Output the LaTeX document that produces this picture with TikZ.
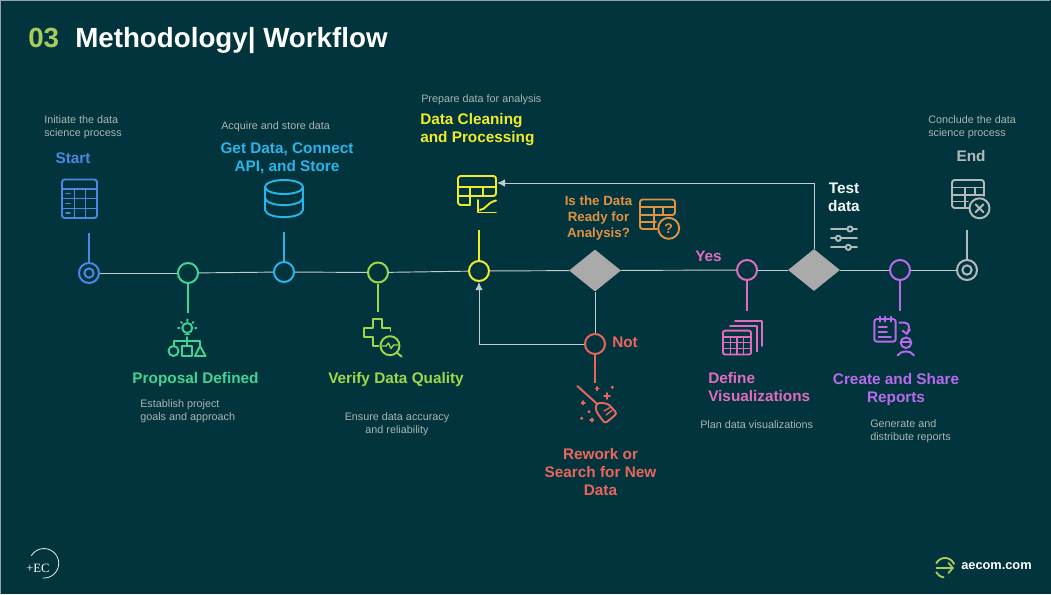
\documentclass[tikz,border=0pt]{standalone}
\usepackage{fontspec}
\setmainfont{Liberation Sans}
\newfontfamily\logofont{Liberation Serif}
\usetikzlibrary{arrows.meta, positioning, shapes.geometric}
\definecolor{slidebg}{RGB}{2,52,62}
\definecolor{slideedge}{RGB}{150,165,170}
\definecolor{notegray}{RGB}{170,182,175}
\definecolor{linegray}{RGB}{195,205,205}
\definecolor{diamondgray}{RGB}{170,170,170}
\definecolor{titlelime}{RGB}{168,204,92}
\definecolor{startblue}{RGB}{74,136,226}
\definecolor{propgreen}{RGB}{66,212,146}
\definecolor{getcyan}{RGB}{42,180,232}
\definecolor{verifylime}{RGB}{158,216,74}
\definecolor{cleanyellow}{RGB}{240,235,44}
\definecolor{askorange}{RGB}{222,146,66}
\definecolor{yespink}{RGB}{224,108,190}
\definecolor{notred}{RGB}{232,102,92}
\definecolor{repviolet}{RGB}{182,108,234}
\definecolor{endgray}{RGB}{178,186,186}
\tikzset{
  stopdot/.style={circle, draw=#1, line width=1.5pt, fill=none, minimum size=15pt, inner sep=0pt},
  stem/.style={draw=#1, line width=1.5pt},
  iconline/.style={draw=#1, line width=1.45pt, line join=round, line cap=round},
  decision/.style={diamond, fill=diamondgray, minimum width=39pt, minimum height=31.5pt, inner sep=0pt},
  mainline/.style={draw=linegray, line width=0.7pt},
  backline/.style={draw=linegray, line width=0.65pt, -{Latex[length=6pt,width=5.5pt]}},
  steptitle/.style={font=\fontsize{11.5}{13.5}\selectfont\bfseries, text=#1, inner sep=0pt, align=center},
  stepnote/.style={font=\fontsize{8.1}{9.75}\selectfont, text=notegray, inner sep=0pt, align=left},
}
\begin{document}
\begin{tikzpicture}[x=0.75pt, y=-0.75pt]
  \useasboundingbox (0,0) rectangle (1051,594);
  \fill[slidebg] (0,0) rectangle (1051,594);
  \draw[slideedge, line width=0.6pt] (0.3,0.3) -- (1050,0.3);
  \draw[slideedge, line width=0.6pt] (0.3,0.3) -- (0.3,594);

  \node[anchor=west, inner sep=0pt, font=\fontsize{20.8}{24}\selectfont\bfseries, text=titlelime] (secnum) at (28,38) {03};
  \node[anchor=west, inner sep=0pt, font=\fontsize{20.8}{24}\selectfont\bfseries, text=white] (slidetitle) at (75,41) {Methodology| Workflow};

  % stops on the line
  \node[stopdot=startblue] (start) at (89,273) {};
  \node[circle, draw=startblue, line width=1.5pt, minimum size=7pt, inner sep=0pt] (startin) at (89,273) {};
  \node[stopdot=propgreen] (prop) at (188,273) {};
  \node[stopdot=getcyan] (getdata) at (284,272) {};
  \node[stopdot=verifylime] (verify) at (378,272.5) {};
  \node[stopdot=cleanyellow] (clean) at (479,271) {};
  \node[decision] (ready) at (595,270.5) {};
  \node[stopdot=yespink] (yes) at (747,270) {};
  \node[decision] (test) at (814,270) {};
  \node[stopdot=repviolet] (report) at (900,270) {};
  \node[stopdot=endgray] (finish) at (967,270) {};
  \node[circle, draw=endgray, line width=1.5pt, minimum size=7pt, inner sep=0pt] (finishin) at (967,270) {};
  \node[stopdot=notred] (rework) at (595,344) {};

  \draw[mainline] (start) -- (prop);
  \draw[mainline] (prop) -- (getdata);
  \draw[mainline] (getdata) -- (verify);
  \draw[mainline] (verify) -- (clean);
  \draw[mainline] (clean) -- (ready);
  \draw[mainline] (ready) -- (yes);
  \draw[mainline] (yes) -- (test);
  \draw[mainline] (test) -- (report);
  \draw[mainline] (report) -- (finish);
  \draw[mainline] (ready) -- (rework);
  \draw[backline] (rework) -| (clean);
  \coordinate (cleanicon) at (497,183);
  \draw[backline] (test) |- (cleanicon);

  \coordinate (starttop) at (89,233);
  \coordinate (proplow) at (188,313);
  \coordinate (gettop) at (284,232);
  \coordinate (verifylow) at (378,312);
  \coordinate (cleantop) at (479,230);
  \coordinate (reworklow) at (595,383);
  \coordinate (yeslow) at (747,311);
  \coordinate (reportlow) at (900,311);
  \coordinate (finishtop) at (967,230);
  \draw[stem=startblue] (start) -- (starttop);
  \draw[stem=propgreen] (prop) -- (proplow);
  \draw[stem=getcyan] (getdata) -- (gettop);
  \draw[stem=verifylime] (verify) -- (verifylow);
  \draw[stem=cleanyellow] (clean) -- (cleantop);
  \draw[stem=notred] (rework) -- (reworklow);
  \draw[stem=yespink] (yes) -- (yeslow);
  \draw[stem=repviolet] (report) -- (reportlow);
  \draw[stem=endgray] (finish) -- (finishtop);

  % start icon
  \draw[iconline=startblue, rounded corners=2pt] (62,179.5) rectangle (97,218);
  \draw[iconline=startblue] (62,189) -- (97,189) (62,198.5) -- (97,198.5) (62,208.5) -- (97,208.5) (74.5,189) -- (74.5,218) (85.5,189) -- (85.5,218);
  \draw[iconline=startblue] (66,193.5) -- (70,193.5) (66,203.5) -- (70,203.5) (66,213) -- (70,213);

  % cylinder icon
  \draw[iconline=getcyan] (284,187) ellipse [x radius=19, y radius=7];
  \draw[iconline=getcyan] (265,187) -- (265,210) .. controls (267,219.5) and (301,219.5) .. (303,210) -- (303,187);
  \draw[iconline=getcyan] (265,198) .. controls (267,207.5) and (301,207.5) .. (303,198);

  % cleaning icon
  \draw[iconline=cleanyellow, rounded corners=2pt] (470,205) -- (458,205) -- (458,176) -- (496,176) -- (496,196) -- (458,196);
  \draw[iconline=cleanyellow] (458,187) -- (496,187) (470,187) -- (470,205) (483,187) -- (483,196);
  \draw[iconline=cleanyellow] (478,200) -- (478,212.5) -- (496,212.5);
  \draw[iconline=cleanyellow] (480,210) .. controls (487,209) and (486,203) .. (496,200.5);

  % question icon
  \draw[iconline=askorange, rounded corners=2pt] (657,229) -- (640,229) -- (640,199.5) -- (675,199.5) -- (675,215) -- (640,215);
  \draw[iconline=askorange] (640,207) -- (675,207) (640,222) -- (656,222) (654,207) -- (654,229) (663,207) -- (663,215);
  \draw[iconline=askorange, fill=slidebg] (668.7,228.3) circle [radius=10.5];
  \node[font=\fontsize{10.5}{12}\selectfont\bfseries, text=askorange, inner sep=0pt] (askmark) at (668.7,228.3) {?};

  % end icon
  \draw[iconline=endgray, rounded corners=2pt] (970,208) -- (952,208) -- (952,180) -- (984,180) -- (984,196);
  \draw[iconline=endgray] (952,187.5) -- (984,187.5) (952,195) -- (984,195) (952,201.5) -- (968,201.5) (965,187.5) -- (965,208) (975,187.5) -- (975,195);
  \draw[iconline=endgray, fill=slidebg] (979.5,208.3) circle [radius=10];
  \draw[iconline=endgray] (975.5,204.3) -- (983.5,212.3) (983.5,204.3) -- (975.5,212.3);

  % sliders icon
  \draw[iconline=endgray] (831,229) -- (857,229) (831,238.3) -- (857,238.3) (831,247.3) -- (857,247.3);
  \draw[iconline=endgray, fill=slidebg] (850,229) circle [radius=2.6] (838.3,238.3) circle [radius=2.6] (848.3,247.3) circle [radius=2.6];

  % bulb icon
  \draw[iconline=propgreen] (187.3,328) circle [radius=5];
  \draw[iconline=propgreen] (185,334.5) -- (189.5,334.5) (187.3,337) -- (187.3,346);
  \draw[iconline=propgreen] (187.3,319.5) -- (187.3,321) (178,328) -- (179.5,328) (195,328) -- (196.5,328) (181,322) -- (182,323) (193.5,322) -- (192.5,323);
  \draw[iconline=propgreen] (174,346) -- (174,341) -- (200,341) -- (200,346);
  \draw[iconline=propgreen] (173.5,351) circle [radius=5];
  \draw[iconline=propgreen] (182,346) rectangle (192,356);
  \draw[iconline=propgreen] (195,356) -- (205.5,356) -- (200,346) -- cycle;

  % plus and lens icon
  \draw[iconline=verifylime] (390.5,331) -- (390.5,328.3) -- (381.7,328.3) -- (381.7,319.3) -- (372.7,319.3) -- (372.7,328.3) -- (364.3,328.3) -- (364.3,337.3) -- (372.7,337.3) -- (372.7,346) -- (378.5,346);
  \draw[iconline=verifylime] (390,345.7) circle [radius=9.5];
  \draw[iconline=verifylime] (396.8,352.5) -- (401.7,356.7);
  \draw[iconline=verifylime, line width=1pt] (382,346) -- (386,346) -- (388.5,343) -- (391,348.5) -- (393.5,345) -- (398,345);

  % broom icon
  \draw[iconline=notred] (577.3,386) -- (596.7,403.5);
  \draw[iconline=notred, rounded corners=2pt] (595.5,405) -- (599.5,402.5) -- (608.5,404) -- (617,413.5) -- (605,423.5) -- (596.5,412) -- cycle;
  \draw[iconline=notred, line width=1pt] (604,411) -- (610,407.5) (606,415) -- (612,410.5);
  \draw[iconline=notred] (604,396) -- (610,396) (607,393) -- (607,399);
  \draw[iconline=notred] (595.5,388.5) -- (599,388.5) (597.3,386.8) -- (597.3,390.3);
  \draw[iconline=notred] (581.5,402.7) -- (585,402.7) (583.3,401) -- (583.3,404.5);
  \draw[iconline=notred] (590,420) -- (593.5,420) (591.7,418.3) -- (591.7,421.7);
  \fill[notred] (612.3,387.3) circle [radius=1.7] (589,411.7) circle [radius=1.7] (581.7,418.3) circle [radius=1.7];

  % stacked tables icon
  \draw[iconline=yespink, rounded corners=1.5pt] (723,330.7) rectangle (751,354.5);
  \draw[iconline=yespink] (723,337) -- (751,337) (723,342.5) -- (751,342.5) (723,348.5) -- (751,348.5) (730.5,337) -- (730.5,354.5) (737,337) -- (737,354.5) (743.5,337) -- (743.5,354.5);
  \draw[iconline=yespink] (730,325.7) -- (756.7,325.7) -- (756.7,351.5);
  \draw[iconline=yespink] (735,320.7) -- (761.7,320.7) -- (761.7,346);

  % report icon
  \draw[iconline=repviolet, rounded corners=2pt] (874.3,319) rectangle (895.7,341.7);
  \draw[iconline=repviolet] (880,316.7) -- (880,321.7) (885,316.7) -- (885,321.7) (890.7,316.7) -- (890.7,321.7);
  \draw[iconline=repviolet] (878.5,326.7) -- (887,326.7) (878.5,332) -- (887,332) (878.5,337.3) -- (891,337.3);
  \draw[iconline=repviolet] (899.3,322.7) -- (905,322.7) .. controls (910,323) and (910,329) .. (906.7,333.5);
  \draw[iconline=repviolet] (902.5,330.5) -- (906.7,334) -- (910,329.5);
  \draw[iconline=repviolet] (906,342.7) circle [radius=5.3];
  \draw[iconline=repviolet] (900.7,342) -- (911.3,342);
  \draw[iconline=repviolet] (897.5,355.5) .. controls (901,350) and (911,350) .. (914,355.5);

  % upper texts
  \node[stepnote, anchor=west] (startnote) at (44,127.5) {Initiate the data\\science process};
  \node[steptitle=startblue] (starttitle) at (73,158) {Start};
  \node[stepnote, anchor=west] (getnote) at (221,127) {Acquire and store data};
  \node[steptitle=getcyan] (gettitle) at (287,158) {Get Data, Connect\\API, and Store};
  \node[stepnote, anchor=west] (cleannote) at (421,100) {Prepare data for analysis};
  \node[steptitle=cleanyellow, anchor=west, align=left] (cleantitle) at (420,130) {Data Cleaning\\and Processing};
  \node[steptitle=askorange, font=\fontsize{10}{12}\selectfont\bfseries] (asktitle) at (598.5,218) {Is the Data\\Ready for\\Analysis?};
  \node[steptitle=white!85!endgray] (testtitle) at (844,197.5) {Test\\data};
  \node[stepnote, anchor=west] (endnote) at (928,127) {Conclude the data\\science process};
  \node[steptitle=endgray] (endtitle) at (971,156.5) {End};

  % lower texts
  \node[steptitle=propgreen] (proptitle) at (195.5,380) {Proposal Defined};
  \node[stepnote, anchor=west] (propnote) at (140,411.5) {Establish project\\goals and approach};
  \node[steptitle=verifylime] (verifytitle) at (396,380) {Verify Data Quality};
  \node[stepnote, align=center] (verifynote) at (397,424.5) {Ensure data accuracy\\and reliability};
  \node[steptitle=notred, anchor=west] (nottitle) at (612,342) {Not};
  \node[steptitle=notred] (reworktitle) at (600.5,472.5) {Rework or\\Search for New\\Data};
  \node[steptitle=yespink, anchor=west] (yestitle) at (695,256) {Yes};
  \node[steptitle=yespink, anchor=west, align=left] (deftitle) at (708,387) {Define\\Visualizations};
  \node[stepnote, anchor=west] (defnote) at (700,425) {Plan data visualizations};
  \node[steptitle=repviolet] (reptitle) at (896,390) {Create and Share\\Reports};
  \node[stepnote, anchor=west] (repnote) at (870,431.5) {Generate and\\distribute reports};

  % logos
  \draw[white!90!slidebg, line width=0.6pt] plot[smooth, samples=40, domain=-150:95] ({44+14.7*cos(\x)},{563.3+14.7*sin(\x)});
  \node[font=\fontsize{9.5}{11}\selectfont\logofont, text=white, inner sep=0pt, anchor=west] (eclogo) at (26,568) {+EC};
  \draw[titlelime, line width=1.4pt] plot[smooth, samples=30, domain=-155:-20] ({945+9.7*cos(\x)},{567.7+9.7*sin(\x)});
  \draw[titlelime, line width=1.4pt] plot[smooth, samples=20, domain=95:155] ({945+9.7*cos(\x)},{567.7+9.7*sin(\x)});
  \coordinate (aecomtail) at (936,568);
  \coordinate (aecomhead) at (954,568);
  \draw[titlelime, line width=1.3pt, -{Straight Barb[length=3.5pt,width=8pt]}] (aecomtail) -- (aecomhead);
  \node[font=\fontsize{9.6}{11}\selectfont\bfseries, text=white, inner sep=0pt, anchor=west] (aecomtext) at (961,566.5) {aecom.com};
\end{tikzpicture}
\end{document}
